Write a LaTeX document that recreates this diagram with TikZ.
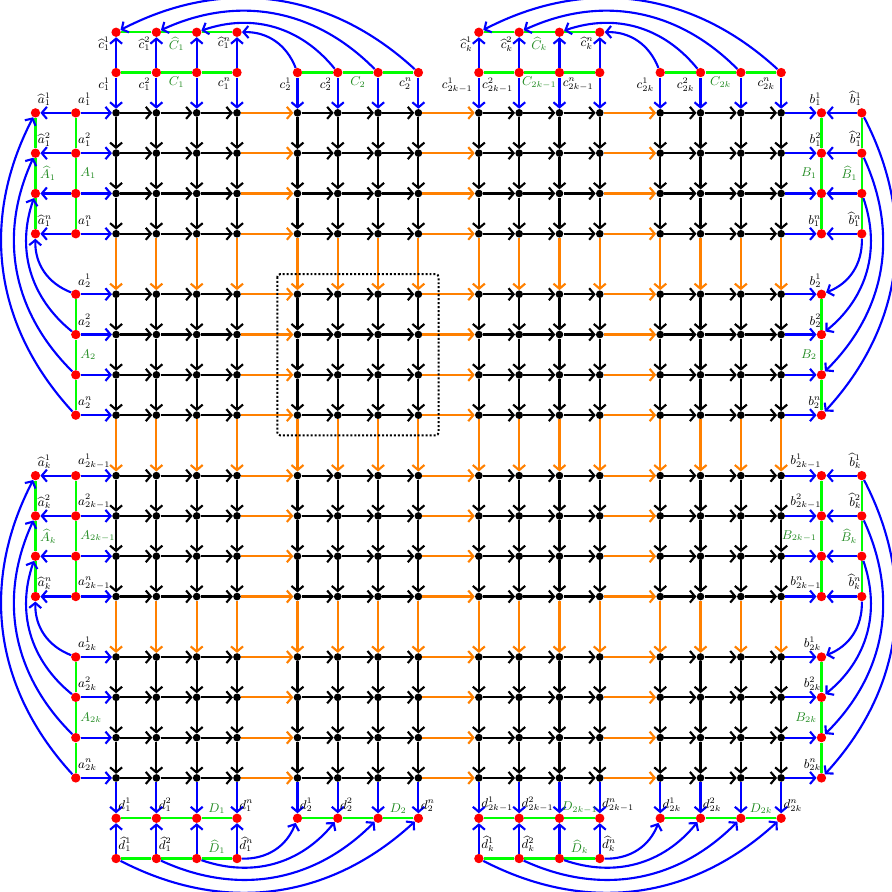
\documentclass[tikz,border=0pt]{standalone}
\usepackage{amsmath}
\usetikzlibrary{arrows.meta}
\definecolor{portblue}{HTML}{0000FF}
\definecolor{linkorange}{HTML}{FF8000}
\definecolor{setgreen}{HTML}{00FF00}
\definecolor{setdark}{HTML}{228B22}

\begin{document}
\begin{tikzpicture}[
  font=\small,
  vtx/.style={circle, fill=black, inner sep=0pt, minimum size=5.4pt},
  term/.style={circle, fill=red, inner sep=0pt, minimum size=6.6pt},
  arc/.style={->, >={Straight Barb[length=3.6pt,width=8.5pt]}, line width=1.5pt},
  gridarc/.style={arc, color=black},
  linkarc/.style={arc, color=linkorange},
  portarc/.style={arc, color=portblue},
  setline/.style={setgreen, line width=1.5pt},
  setlbl/.style={text=setdark, inner sep=2.5pt},
  tname/.style={inner sep=1pt},
]
\useasboundingbox (-2.88,2.80) rectangle (19.23,-19.33);

% grid vertices
\foreach \r in {1,...,16}
  \foreach \c in {1,...,16}{
    \pgfmathsetmacro{\x}{4.5*floor((\c-1)/4)+mod(\c-1,4)}
    \pgfmathsetmacro{\y}{-4.5*floor((\r-1)/4)-mod(\r-1,4)}
    \node[vtx] (g-\r-\c) at (\x,\y) {};
  }

% grid edges, orange between blocks
\foreach \r in {1,...,16}
  \foreach \c in {1,...,15}{
    \pgfmathtruncatemacro{\d}{\c+1}
    \pgfmathtruncatemacro{\gap}{mod(\c,4)}
    \ifnum\gap=0
      \draw[linkarc] (g-\r-\c) -- (g-\r-\d);
      \draw[linkarc] (g-\c-\r) -- (g-\d-\r);
    \else
      \draw[gridarc] (g-\r-\c) -- (g-\r-\d);
      \draw[gridarc] (g-\c-\r) -- (g-\d-\r);
    \fi
  }

% terminals on the four sides
\foreach \m/\s/\h in {1/1/1,2/2/1,3/2k-1/k,4/2k/k}
  \foreach \j/\t in {1/1,2/2,3/,4/n}{
    \pgfmathtruncatemacro{\i}{4*(\m-1)+\j}
    \pgfmathsetmacro{\p}{4.5*(\m-1)+\j-1}
    \node[term] (a-\i) at (-1,-\p) {};
    \node[term] (b-\i) at (17.5,-\p) {};
    \node[term] (c-\i) at (\p,1) {};
    \node[term] (d-\i) at (\p,-17.5) {};
    \draw[portarc] (a-\i) -- (g-\i-1);
    \draw[portarc] (g-\i-16) -- (b-\i);
    \draw[portarc] (c-\i) -- (g-1-\i);
    \draw[portarc] (g-16-\i) -- (d-\i);
    \ifnum\j=3 \else
      \node[tname, anchor=south west] (la-\i) at ([shift={(0.5pt,3.7pt)}]a-\i.center) {$a_{\s}^{\t}$};
      \node[tname, anchor=south east] (lb-\i) at ([shift={(1pt,3.7pt)}]b-\i.center) {$b_{\s}^{\t}$};
      \node[tname, anchor=north east] (lc-\i) at ([shift={(-3.2pt,-2.5pt)}]c-\i.center) {$c_{\s}^{\t}$};
      \node[tname, anchor=south west] (ld-\i) at ([shift={(0.5pt,3.7pt)}]d-\i.center) {$d_{\s}^{\t}$};
    \fi
    \ifodd\m
      \node[term] (ha-\i) at (-2,-\p) {};
      \node[term] (hb-\i) at (18.5,-\p) {};
      \node[term] (hc-\i) at (\p,2) {};
      \node[term] (hd-\i) at (\p,-18.5) {};
      \draw[portarc] (a-\i) -- (ha-\i);
      \draw[portarc] (hb-\i) -- (b-\i);
      \draw[portarc] (c-\i) -- (hc-\i);
      \draw[portarc] (hd-\i) -- (d-\i);
      \ifnum\j=3 \else
        \node[tname, anchor=south west] (lha-\i) at ([shift={(0.5pt,3.7pt)}]ha-\i.center) {$\widehat{a}_{\h}^{\t}$};
        \node[tname, anchor=south east] (lhb-\i) at ([shift={(1pt,3.7pt)}]hb-\i.center) {$\widehat{b}_{\h}^{\t}$};
        \node[tname, anchor=north east] (lhc-\i) at ([shift={(-3.2pt,-2.5pt)}]hc-\i.center) {$\widehat{c}_{\h}^{\t}$};
        \node[tname, anchor=south west] (lhd-\i) at ([shift={(0.5pt,3.7pt)}]hd-\i.center) {$\widehat{d}_{\h}^{\t}$};
      \fi
    \fi
  }

% green groups with their names
\foreach \m/\s/\h in {1/1/1,2/2/1,3/2k-1/k,4/2k/k}{
  \pgfmathtruncatemacro{\ia}{4*(\m-1)+1}
  \pgfmathtruncatemacro{\ib}{4*(\m-1)+2}
  \pgfmathtruncatemacro{\ic}{4*(\m-1)+3}
  \pgfmathtruncatemacro{\id}{4*(\m-1)+4}
  \draw[setline] (a-\ia) -- (a-\ib) -- node[setlbl, right] {$A_{\s}$} (a-\ic) -- (a-\id);
  \draw[setline] (b-\ia) -- (b-\ib) -- node[setlbl, left] {$B_{\s}$} (b-\ic) -- (b-\id);
  \draw[setline] (c-\ia) -- (c-\ib) -- node[setlbl, below] {$C_{\s}$} (c-\ic) -- (c-\id);
  \draw[setline] (d-\ia) -- (d-\ib) -- (d-\ic) -- node[setlbl, above] {$D_{\s}$} (d-\id);
  \ifodd\m
    \draw[setline] (ha-\ia) -- (ha-\ib) -- node[setlbl, right] {$\widehat{A}_{\h}$} (ha-\ic) -- (ha-\id);
    \draw[setline] (hb-\ia) -- (hb-\ib) -- node[setlbl, left] {$\widehat{B}_{\h}$} (hb-\ic) -- (hb-\id);
    \draw[setline] (hc-\ia) -- (hc-\ib) -- node[setlbl, below] {$\widehat{C}_{\h}$} (hc-\ic) -- (hc-\id);
    \draw[setline] (hd-\ia) -- (hd-\ib) -- (hd-\ic) -- node[setlbl, above] {$\widehat{D}_{\h}$} (hd-\id);
  \fi
}

% wrap-around arcs
\foreach \m in {2,4}
  \foreach \j in {1,...,4}{
    \pgfmathtruncatemacro{\i}{4*(\m-1)+\j}
    \pgfmathtruncatemacro{\k}{4*(\m-2)+5-\j}
    \pgfmathtruncatemacro{\o}{4*(\m-2)+\j}
    \pgfmathtruncatemacro{\q}{4*(\m-1)+5-\j}
    \draw[portarc] (a-\i) to[bend left=35] (ha-\k);
    \draw[portarc] (hb-\o) to[bend left=35] (b-\q);
    \draw[portarc] (c-\i) to[bend right=35] (hc-\k);
    \draw[portarc] (hd-\o) to[bend right=35] (d-\q);
  }

\draw[line width=1.4pt, dash pattern=on 1.4pt off 1.4pt, rounded corners=2pt] (4,-4) rectangle (8,-8);
\end{tikzpicture}
\end{document}
